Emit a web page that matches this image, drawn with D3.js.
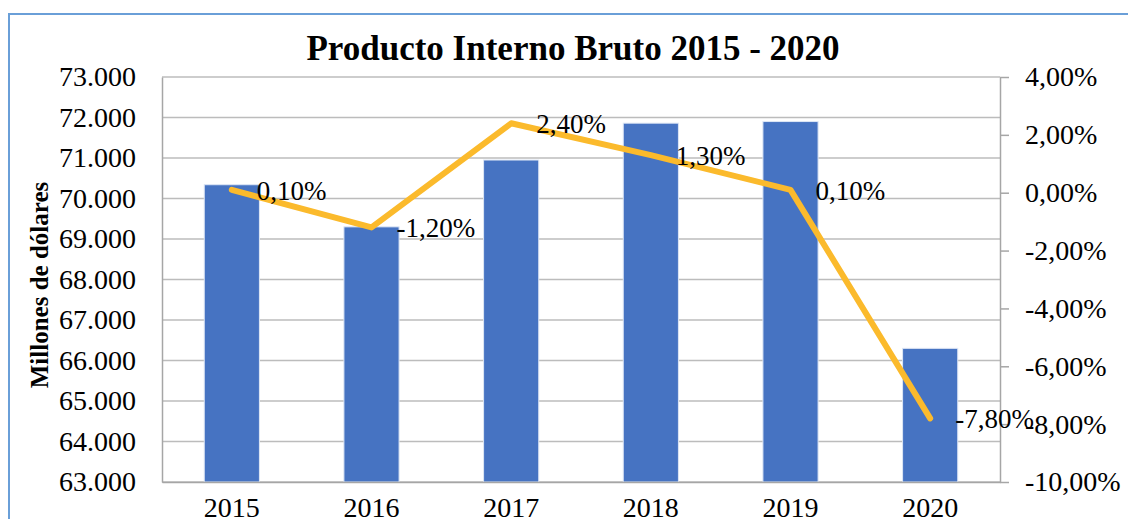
<!DOCTYPE html>
<html>
<head>
<meta charset="utf-8">
<script src="https://cdn.jsdelivr.net/npm/d3@7"></script>
<style>
  html, body { margin: 0; padding: 0; background: #fff; }
  svg, svg text { font-family: "Liberation Serif", "Times New Roman", serif; }
</style>
</head>
<body>
<svg id="chart" width="1128" height="519"></svg>
<script>
// ---- data ----
const years = ["2015", "2016", "2017", "2018", "2019", "2020"];
const pib = [70340, 69300, 70950, 71860, 71900, 66300];       // millones de dólares
const growth = [0.1, -1.2, 2.4, 1.3, 0.1, -7.8];                // %
const leftTicks = [63000, 64000, 65000, 66000, 67000, 68000, 69000, 70000, 71000, 72000, 73000];
const rightTicks = [-10, -8, -6, -4, -2, 0, 2, 4];

const W = 1128, H = 519;
const plot = { left: 162, right: 1000, top: 77, bottom: 482 };
const serif = '"Liberation Serif", "Times New Roman", serif';

const loc = d3.formatLocale({ decimal: ",", thousands: ".", grouping: [3], currency: ["", "$"], minus: "-" });
const fmtThousands = loc.format(",.0f");
const fmtPct = v => loc.format(".2f")(v) + "%";

const svg = d3.select("#chart");

// outer frame (only top + left visible in the capture)
svg.append("path")
  .attr("d", `M9,${H} L9,14 L${W},14`)
  .attr("fill", "none")
  .attr("stroke", "#6a9fd8")
  .attr("stroke-width", 2);

//------------------------------------------------------//
// scales
//------------------------------------------------------//
const x = d3.scaleBand().domain(years).range([plot.left, plot.right]).padding(0);
const y = d3.scaleLinear().domain([63000, 73000]).range([plot.bottom, plot.top]);
const y2 = d3.scaleLinear().domain([-10, 4]).range([plot.bottom, plot.top]);

// gridlines
svg.append("g")
  .selectAll("line")
  .data(leftTicks)
  .join("line")
  .attr("x1", plot.left).attr("x2", plot.right)
  .attr("y1", d => y(d)).attr("y2", d => y(d))
  .attr("stroke", "#bcbcbc")
  .attr("stroke-width", 1.5);

// bars
const barW = x.bandwidth() * 0.395;
svg.append("g")
  .selectAll("rect")
  .data(pib)
  .join("rect")
  .attr("x", (d, i) => x(years[i]) + x.bandwidth() / 2 - barW / 2)
  .attr("y", d => y(d))
  .attr("width", barW)
  .attr("height", d => plot.bottom - y(d))
  .attr("fill", "#4673c2")
  .attr("stroke", "#dde6f5")
  .attr("stroke-width", 1);

//------------------------------------------------------//
// axes
//------------------------------------------------------//
const styleAxis = g => {
  g.attr("font-family", null);
  g.select(".domain").attr("stroke", "#a6a6a6").attr("stroke-width", 1.5);
  g.selectAll(".tick line").attr("stroke", "#a6a6a6").attr("stroke-width", 1.5);
  g.selectAll(".tick text").attr("fill", "#000")
    .style("font-family", serif).style("font-size", "28px");
};

svg.append("g")
  .attr("transform", `translate(${plot.left},0)`)
  .call(d3.axisLeft(y).tickValues(leftTicks).tickFormat(fmtThousands).tickSize(0).tickPadding(26).tickSizeOuter(0))
  .call(styleAxis);

svg.append("g")
  .attr("transform", `translate(${plot.right},0)`)
  .call(d3.axisRight(y2).tickValues(rightTicks).tickFormat(fmtPct).tickSize(9).tickPadding(16).tickSizeOuter(0))
  .call(styleAxis);

svg.append("g")
  .attr("transform", `translate(0,${plot.bottom})`)
  .call(d3.axisBottom(x).tickSize(0).tickPadding(15).tickSizeOuter(0))
  .call(styleAxis);

//------------------------------------------------------//
// growth line + labels
//------------------------------------------------------//
const cx = i => x(years[i]) + x.bandwidth() / 2;
const line = d3.line().x((d, i) => cx(i)).y(d => y2(d));

svg.append("path")
  .datum(growth)
  .attr("d", line)
  .attr("fill", "none")
  .attr("stroke", "#fbba2c")
  .attr("stroke-width", 6)
  .attr("stroke-linecap", "round")
  .attr("stroke-linejoin", "round");

svg.append("g")
  .selectAll("text")
  .data(growth)
  .join("text")
  .attr("x", (d, i) => cx(i) + 25)
  .attr("y", d => y2(d) + 10)
  .style("font-family", serif)
  .style("font-size", "27px")
  .attr("fill", "#000")
  .text(d => fmtPct(d));

// titles
svg.append("text")
  .attr("x", 573)
  .attr("y", 60)
  .attr("text-anchor", "middle")
  .style("font-family", serif)
  .style("font-size", "35px")
  .style("font-weight", "bold")
  .text("Producto Interno Bruto 2015 - 2020");

svg.append("text")
  .attr("transform", "translate(48,285) rotate(-90)")
  .attr("text-anchor", "middle")
  .style("font-family", serif)
  .style("font-size", "25px")
  .style("font-weight", "bold")
  .text("Millones de dólares");
</script>
</body>
</html>
